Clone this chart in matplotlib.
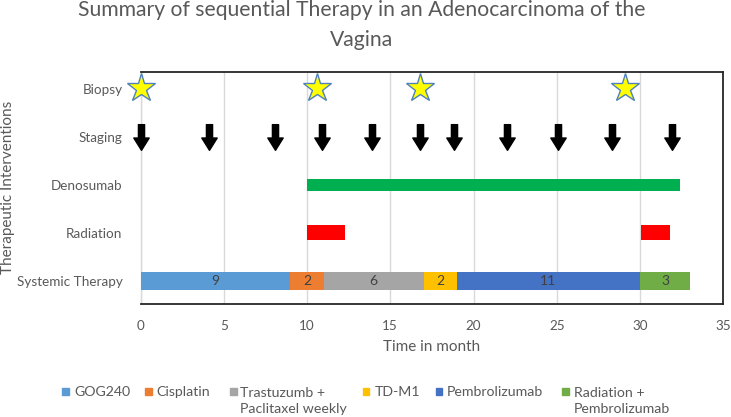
import matplotlib
matplotlib.use("Agg")
import matplotlib.pyplot as plt
from matplotlib.path import Path
from matplotlib.patches import Rectangle

plt.rcParams['font.family'] = ['Lato', 'DejaVu Sans']

# ---- data ----
rows = ["Systemic Therapy", "Radiation", "Denosumab", "Staging", "Biopsy"]
biopsy_months = [0, 10.6, 16.8, 29.1]
staging_months = [0, 4.1, 8.1, 10.9, 13.9, 16.8, 18.8, 22.0, 25.1, 28.3, 31.9]
denosumab_start = [10.0]
denosumab_len = [22.4]
radiation_start = [10.0, 30.05]
radiation_len = [2.3, 1.75]
therapy_names = ["GOG240", "Cisplatin", "Trastuzumb +\nPaclitaxel weekly", "TD-M1",
                 "Pembrolizumab", "Radiation +\nPembrolizumab"]
therapy_months = [9, 2, 6, 2, 11, 3]
therapy_colors = ["#5B9BD5", "#ED7D31", "#A5A5A5", "#FFC000", "#4472C4", "#70AD47"]
x_ticks = [0, 5, 10, 15, 20, 25, 30, 35]

W, H = 731, 417
fig = plt.figure(figsize=(W / 100, H / 100), dpi=100)
ax = fig.add_axes([140.5 / W, 1 - 304.3 / H, (723.3 - 140.5) / W, (304.3 - 72.3) / H])

TXT = "#595959"
ypos = {r: i for i, r in enumerate(rows)}

# systemic therapy stacked bar
left = 0
for name, dur, col in zip(therapy_names, therapy_months, therapy_colors):
    ax.barh(ypos["Systemic Therapy"], dur, left=left, height=0.38, color=col, zorder=3)
    ax.text(left + dur / 2, ypos["Systemic Therapy"], str(dur), ha='center', va='center',
            color="#404040", fontsize=10, zorder=4)
    left += dur

ax.barh([ypos["Radiation"]] * len(radiation_start), radiation_len, left=radiation_start,
        height=0.31, color="#FF0000", zorder=3)
ax.barh([ypos["Denosumab"]] * len(denosumab_start), denosumab_len, left=denosumab_start,
        height=0.26, color="#00B050", zorder=3)

# staging arrows
arrow = Path([(-0.12, 0.5), (0.12, 0.5), (0.12, -0.02), (0.3, -0.02), (0, -0.5),
              (-0.3, -0.02), (-0.12, -0.02), (-0.12, 0.5)],
             [Path.MOVETO] + [Path.LINETO] * 6 + [Path.CLOSEPOLY])
ax.plot(staging_months, [ypos["Staging"]] * len(staging_months), linestyle='none',
        marker=arrow, markersize=18.5, color='black', zorder=4, clip_on=False)

# biopsy stars
ax.plot(biopsy_months, [ypos["Biopsy"] + 0.03] * len(biopsy_months), linestyle='none',
        marker='*', markersize=21, markerfacecolor='#FFFF00', markeredgecolor='#4F81BD',
        markeredgewidth=1.0, zorder=5, clip_on=False)

ax.set_xlim(0, 35)
ax.set_ylim(-0.49, 4.35)
ax.set_xticks(x_ticks)
ax.set_xticklabels([str(t) for t in x_ticks])
ax.set_yticks([ypos[r] for r in rows])
ax.set_yticklabels(rows)
ax.tick_params(axis='both', length=0, labelsize=9.7, labelcolor=TXT)
ax.tick_params(axis='x', pad=11)
ax.tick_params(axis='y', pad=13)
ax.grid(axis='x', color='#D9D9D9', linewidth=1.0, zorder=0)
ax.set_axisbelow(True)
for s in ['top', 'right', 'bottom']:
    ax.spines[s].set_color('#262626')
    ax.spines[s].set_linewidth(1.3)
ax.spines['left'].set_color('#D9D9D9')
ax.spines['left'].set_linewidth(1.0)

ax.set_xlabel("Time in month", fontsize=11, color=TXT, labelpad=6)
fig.text(8 / W, 1 - 187 / H, "Therapeutic Interventions", rotation=90, ha='center',
         va='center', fontsize=11, color=TXT)

# title: baseline of the last line given, spacing tuned to the reference
fig.text(362 / W, 1 - 45.5 / H,
         "Summary of sequential Therapy in an Adenocarcinoma of the\nVagina",
         ha='center', va='baseline', multialignment='center', fontsize=15.2,
         color=TXT, linespacing=1.62)

# legend (manual, to keep squares aligned with first text line)
sq_x = [65.7, 148.7, 233.3, 366.0, 439.0, 565.7]
tx_x = [74.0, 156.7, 240.0, 374.3, 447.0, 574.0]
for name, col, sx, tx in zip(therapy_names, therapy_colors, sq_x, tx_x):
    fig.add_artist(Rectangle(((sx - 3.5) / W, 1 - (391.7 + 3.5) / H), 7 / W, 7 / H,
                             transform=fig.transFigure, color=col))
    nl = name.count("\n")
    fig.text(tx / W, 1 - (395.5 + 17.6 * nl) / H, name, ha='left', va='baseline',
             fontsize=10.2, color=TXT, linespacing=1.44)

fig.savefig("out.png", dpi=100)
